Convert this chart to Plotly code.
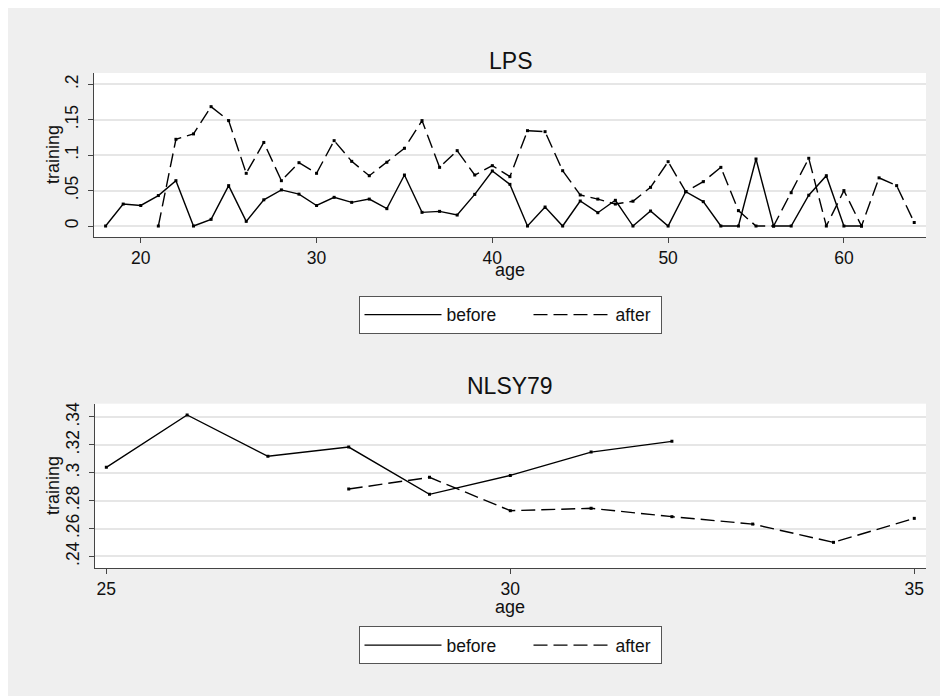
import plotly.graph_objects as go

# ---- data: LPS ----
lps_age_before = list(range(18, 62))
lps_before = [0, 0.031, 0.029, 0.043, 0.064, 0, 0.0094, 0.057, 0.0066, 0.037,
              0.051, 0.045, 0.029, 0.0405, 0.0334, 0.038, 0.0245, 0.072, 0.0193, 0.0207,
              0.0155, 0.0447, 0.0777, 0.0588, 0, 0.0268, 0, 0.0353, 0.0188, 0.0363,
              0, 0.0212, 0, 0.0485, 0.0344, 0, 0, 0.0946, 0, 0,
              0.0435, 0.071, 0, 0]
lps_age_after = list(range(21, 65))
lps_after = [0, 0.1224, 0.130, 0.1685, 0.1488, 0.0744, 0.118, 0.064, 0.0894, 0.0744,
             0.1205, 0.0913, 0.071, 0.09, 0.1097, 0.1488, 0.0828, 0.1064, 0.072, 0.0852,
             0.0697, 0.1346, 0.1332, 0.0781, 0.0438, 0.038, 0.031, 0.035, 0.0546, 0.0908,
             0.0485, 0.0626, 0.0828, 0.0217, 0, 0, 0.047, 0.0956, 0, 0.05,
             0, 0.068, 0.057, 0.005]

# ---- data: NLSY79 ----
nlsy_age_before = [25, 26, 27, 28, 29, 30, 31, 32]
nlsy_before = [0.3039, 0.3414, 0.3118, 0.3184, 0.2845, 0.2981, 0.3148, 0.3225]
nlsy_age_after = [28, 29, 30, 31, 32, 33, 34, 35]
nlsy_after = [0.2883, 0.2967, 0.2728, 0.2745, 0.2685, 0.2632, 0.2501, 0.2673]

lps_xticks = [20, 30, 40, 50, 60]
lps_yticks = [0, 0.05, 0.1, 0.15, 0.2]
lps_yticklabels = ["0", ".05", ".1", ".15", ".2"]
nlsy_xticks = [25, 30, 35]
nlsy_yticks = [0.24, 0.26, 0.28, 0.3, 0.32, 0.34]
nlsy_yticklabels = [".24", ".26", ".28", ".3", ".32", ".34"]

W, H = 948, 696
OX, OY = 8, 9  # page offset of the figure inside the browser window
FONT = "Liberation Sans, Arial, Helvetica, sans-serif"
TXT = "#111111"
BG = "#efefef"
AX = "#444444"
GRID = "#e6e6e6"
DASH = "14px,6px"
LW = 1.4

fig = go.Figure()

def add_series(x, y, xa, ya, name, dash, legend, lw_entry):
    fig.add_trace(go.Scatter(x=x, y=y, xaxis=xa, yaxis=ya, mode="lines", name=name,
                             line=dict(color="black", width=LW, dash=dash),
                             legend=legend, legendwidth=lw_entry, hoverinfo="skip"))
    fig.add_trace(go.Scatter(x=x, y=y, xaxis=xa, yaxis=ya, mode="markers", showlegend=False,
                             marker=dict(color="black", size=3, symbol="square"),
                             hoverinfo="skip"))

add_series(lps_age_before, lps_before, "x", "y", "before", "solid", "legend", 77)
add_series(lps_age_after, lps_after, "x", "y", "after", DASH, "legend", 40)
add_series(nlsy_age_before, nlsy_before, "x2", "y2", "before", "solid", "legend2", 77)
add_series(nlsy_age_after, nlsy_after, "x2", "y2", "after", DASH, "legend2", 40)

def px_x(p):
    return (p - OX) / W

def px_y(p):
    return (H - (p - OY)) / H

axis_common = dict(showline=True, linecolor=AX, linewidth=1.3, ticks="outside", ticklen=5,
                   tickcolor=AX, tickwidth=1.2, tickfont=dict(family=FONT, size=17.5, color=TXT),
                   zeroline=False, mirror=False)

leg_common = dict(orientation="h", x=px_x(510), xanchor="center", yanchor="top",
                  bgcolor="white", bordercolor="#555555", borderwidth=1,
                  font=dict(family=FONT, size=17.5, color=TXT), itemwidth=77,
                  traceorder="normal")

fig.update_layout(
    width=W, height=H,
    margin=dict(l=0, r=0, t=0, b=0, autoexpand=False),
    paper_bgcolor=BG, plot_bgcolor="white",
    font=dict(family=FONT, color=TXT),
    xaxis=dict(domain=[px_x(94), px_x(926)], anchor="y", range=[17.34, 64.67],
               tickvals=lps_xticks, showgrid=False, **axis_common),
    yaxis=dict(domain=[px_y(238), px_y(74)], anchor="x", range=[-0.0155, 0.216],
               tickvals=lps_yticks, ticktext=lps_yticklabels, tickangle=-90,
               ticklabelstandoff=3,
               showgrid=True, gridcolor=GRID, gridwidth=1.5, **axis_common),
    xaxis2=dict(domain=[px_x(94.7), px_x(926)], anchor="y2", range=[24.856, 35.145],
                tickvals=nlsy_xticks, showgrid=False, **axis_common),
    yaxis2=dict(domain=[px_y(569), px_y(404.7)], anchor="x2", range=[0.2317, 0.3495],
                tickvals=nlsy_yticks, ticktext=nlsy_yticklabels, tickangle=-90,
                ticklabelstandoff=3,
                showgrid=True, gridcolor=GRID, gridwidth=1.5, **axis_common),
    legend=dict(y=px_y(296.7), **leg_common),
    legend2=dict(y=px_y(627.3), **leg_common),
    showlegend=True,
)

def ann(text, x, y, size, angle=0):
    fig.add_annotation(text=text, xref="paper", yref="paper", x=px_x(x), y=px_y(y),
                       xanchor="center", yanchor="middle", showarrow=False, textangle=angle,
                       font=dict(family=FONT, size=size, color=TXT))

ann("LPS", 510, 62, 23)
ann("NLSY79", 510, 386.7, 23)
ann("age", 510, 271, 18)
ann("age", 510, 607.5, 18)
ann("training", 53, 156, 18, -90)
ann("training", 53, 487, 18, -90)

fig.write_html("out.html")
